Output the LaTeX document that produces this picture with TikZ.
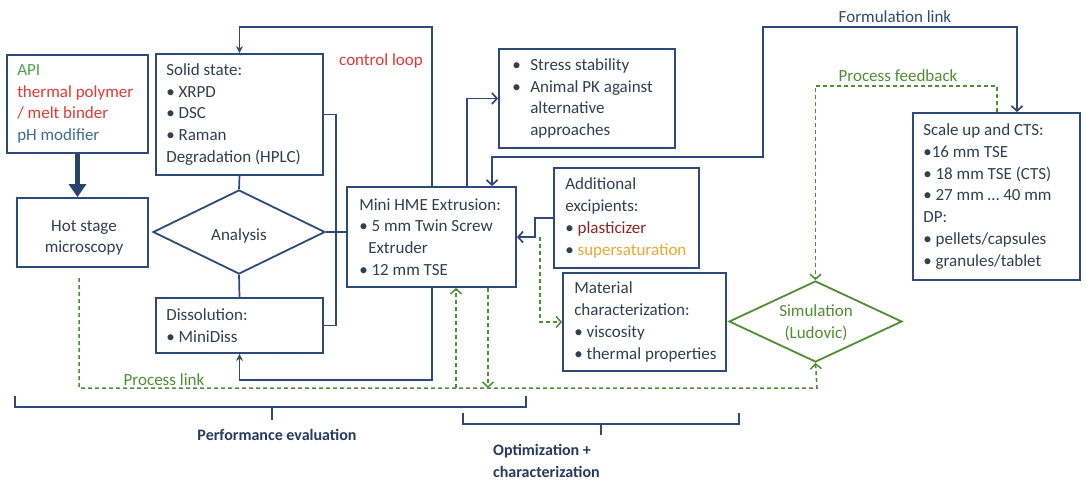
\documentclass[tikz,border=0pt]{standalone}
\usepackage{fontspec}
\setmainfont{Carlito}
\usetikzlibrary{arrows.meta,shapes.geometric}
\definecolor{navy}{HTML}{2E4A78}
\definecolor{txtc}{HTML}{343E4E}
\definecolor{grn}{HTML}{4F8E33}
\definecolor{apigreen}{HTML}{4CA64C}
\definecolor{polyred}{HTML}{E53935}
\definecolor{phblue}{HTML}{3B6E8F}
\definecolor{plastred}{HTML}{8E2525}
\definecolor{supor}{HTML}{EFA82E}
\tikzset{
  box/.style={draw=navy, line width=1.8pt, fill=white, inner sep=0pt},
  txt/.style={text=txtc, align=left, inner sep=0pt},
  conn/.style={draw=navy, line width=1.7pt},
  gdash/.style={draw=grn, line width=1.5pt, dash pattern=on 4pt off 3pt},
  >={Straight Barb[length=5pt,width=11pt]},
  sharp/.style={-{Stealth[length=7pt,width=7pt]}},
  brace/.style={draw=navy, line width=1.5pt},
}
\newcommand{\bul}{\makebox[18pt][l]{•}}
\begin{document}
\begin{tikzpicture}[x=1pt,y=-1pt,font=\fontsize{17}{21.7}\selectfont]
\useasboundingbox[fill=white] (0,0) rectangle (1087,488);

% boxes
\node[box, minimum width=141pt, minimum height=98pt] (api) at (77.5,104) {};
\node[txt, anchor=west] (apiT) at ([xshift=11pt]api.west)
  {\textcolor{apigreen}{API}\\\textcolor{polyred}{thermal polymer}\\\textcolor{polyred}{/ melt binder}\\\textcolor{phblue}{pH modifier}};

\node[box, minimum width=167pt, minimum height=121pt] (solid) at (239.5,114.5) {};
\node[txt, anchor=west] (solidT) at ([xshift=11pt]solid.west)
  {Solid state:\\• XRPD\\• DSC\\• Raman\\Degradation (HPLC)};

\node[box, minimum width=131pt, minimum height=69pt] (hot) at (82.5,232.5) {};
\node[txt, align=center] (hotT) at (84,238) {Hot stage\\microscopy};

\node[draw=navy, line width=1.8pt, fill=white, diamond, inner sep=0pt,
      minimum width=172pt, minimum height=84pt, text=txtc] (ana) at (239,232) {};
\node[txt] (anaT) at (239,236) {Analysis};

\node[box, minimum width=167pt, minimum height=55pt] (diss) at (239.5,325.5) {};
\node[txt, anchor=west] (dissT) at ([xshift=11pt]diss.west) {Dissolution:\\• MiniDiss};

\node[box, minimum width=169pt, minimum height=100pt] (hme) at (431.5,237) {};
\node[txt, anchor=west] (hmeT) at ([xshift=13pt]hme.west)
  {Mini HME Extrusion:\\• 5 mm Twin Screw\\\hspace*{9pt}Extruder\\• 12 mm TSE};

\node[box, minimum width=176pt, minimum height=99pt] (stress) at (587,98.5) {};
\node[txt, anchor=west] (stressT) at ([xshift=14pt]stress.west)
  {\bul Stress stability\\\bul Animal PK against\\\hspace*{18pt}alternative\\\hspace*{18pt}approaches};

\node[box, minimum width=145pt, minimum height=100pt] (add) at (626.5,218) {};
\node[txt, anchor=west] (addT) at ([xshift=12pt]add.west)
  {Additional\\excipients:\\• \textcolor{plastred}{plasticizer}\\• \textcolor{supor}{supersaturation}};

\node[box, minimum width=163pt, minimum height=98pt] (mat) at (644.5,322) {};
\node[txt, anchor=west] (matT) at ([xshift=12pt]mat.west)
  {Material\\characterization:\\• viscosity\\• thermal properties};

\node[box, minimum width=167pt, minimum height=167pt] (scale) at (996.5,196.5) {};
\node[txt, anchor=west] (scaleT) at ([xshift=11pt]scale.west)
  {Scale up and CTS:\\•16 mm TSE\\• 18 mm TSE (CTS)\\• 27 mm … 40 mm\\DP:\\• pellets/capsules\\• granules/tablet};

\node[draw=grn, line width=1.8pt, fill=white, diamond, inner sep=0pt,
      minimum width=173pt, minimum height=81pt] (sim) at (815.5,321.5) {};
\node[text=grn, align=center, inner sep=0pt] (simT) at (816,322.5) {Simulation\\(Ludovic)};

% input arrow
\draw[draw=navy!90!black, line width=5pt, -{Triangle[length=13pt,width=17pt]}]
  (api.south) -- (api.south |- hot.north);

% analysis wiring
\draw[conn] (solid.south) -- (ana.north);
\draw[conn] (ana.south) -- (diss.north);
\draw[conn] (solid.east) -- ++(12,0) |- (diss.east);
\draw[conn] (ana.east) -- (ana.east -| hme.west);

% control loop
\coordinate (loopTop) at (432,27);
\coordinate (loopBot) at (432,380);
\draw[conn, sharp] (hme.north -| loopTop) -- (loopTop) -| (solid.north);
\draw[conn, sharp] (hme.south -| loopBot) -- (loopBot) -| (diss.south);
\node[text=polyred, inner sep=0pt] (ctl) at (381,61) {control loop};

% extrusion to stability
\draw[conn, ->] (hme.north -| 467,0) |- (stress.west);

% formulation link
\draw[conn, <->] (hme.north -| 492,0) -- (492,157) -- (763,157) -- (763,27)
  -- (1017,27) -- (scale.north -| 1017,0);
\node[text=navy, inner sep=0pt] (forT) at (895,17) {Formulation link};

% excipients to extrusion
\coordinate (addBend) at (535,218);
\draw[conn, ->] (add.west) -- (addBend) |- (hme.east);
\draw[gdash, ->] (540,237) |- (mat.west);

% process link
\draw[gdash, ->] (79,278) -- (79,388) -- (817,388) -- (sim.south);
\node[text=grn, inner sep=0pt] (plT) at (164,380) {Process link};
\draw[gdash, ->] (456,388) -- (hme.south -| 456,0);
\draw[gdash, ->] (hme.south -| 488,0) -- (488,388);

% process feedback
\draw[gdash, ->] (scale.north -| 997,0) -- (997,86) -| (sim.north);
\node[text=grn, inner sep=0pt] (pfT) at (898,76) {Process feedback};

% brackets
\draw[brace] (15,396) -- (15,407) -- (526,407) -- (526,396);
\draw[brace] (272,407) -- (272,420);
\node[text=navy!80!black, font=\fontsize{16}{20}\selectfont\bfseries, inner sep=0pt]
  (perfT) at (277,435) {Performance evaluation};
\draw[brace] (463,413) -- (463,424) -- (739,424) -- (739,413);
\draw[brace] (601,424) -- (601,435);
\node[text=navy!80!black, font=\fontsize{16}{22}\selectfont\bfseries, align=left,
      anchor=west, inner sep=0pt] (optT) at (493,461) {Optimization +\\characterization};
\end{tikzpicture}
\end{document}
